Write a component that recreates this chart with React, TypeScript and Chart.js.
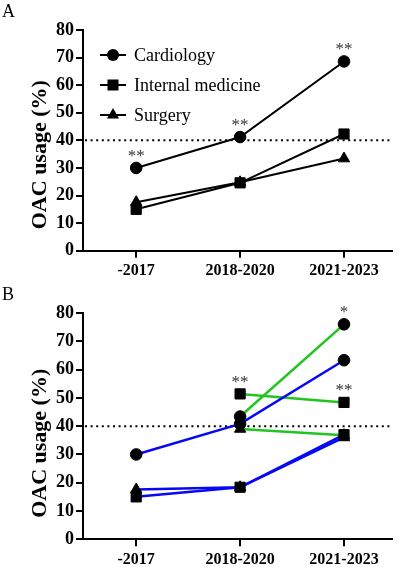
import React, { useEffect, useRef } from 'react';
import { Chart, registerables } from 'chart.js';

Chart.register(...registerables);

// Period categories on the x axis
const categories = ['-2017', '2018-2020', '2021-2023'];

// Panel A: OAC usage (%) by department
const cardiologyA = [30, 41.2, 68.6];
const internalA = [15, 24.6, 42.3];
const surgeryA = [17.6, 24.8, 33.4];
const cardiologyStarsA = ['**', '**', '**'];

// Panel B: blue and green series per department
const cardiologyBlue = [30, 40.8, 63.3];
const internalBlue = [15, 18.4, 37];
const surgeryBlue = [17.6, 18.4, 36];
const cardiologyGreen = [null, 43.4, 76];
const internalGreen = [null, 51.4, 48.4];
const surgeryGreen = [null, 39, 36.8];
const cardiologyGreenStars = ['', '', '*'];
const internalGreenStars = ['', '**', '**'];

const threshold = 40;
const yMin = 0;
const yMax = 80;
const yStep = 10;

const SERIF = "'Liberation Serif', 'Times New Roman', serif";
const BLUE = '#0808f4';
const GREEN = '#21c421';

type Val = number | null;

const toPoints = (vals: Val[]) => vals.map((v, i) => ({ x: i, y: v }));

function series(label: string, vals: Val[], style: string, color: string, width: number, stars?: string[]) {
  const radius = style === 'rect' ? 7.2 : style === 'triangle' ? 6.5 : 5.8;
  return {
    label,
    data: toPoints(vals),
    borderColor: color,
    borderWidth: width,
    pointStyle: style,
    pointRadius: radius,
    pointBackgroundColor: '#000',
    pointBorderColor: '#000',
    pointBorderWidth: 1,
    tension: 0,
    spanGaps: false,
    stars,
  } as any;
}

function drawMarker(ctx: CanvasRenderingContext2D, style: string, x: number, y: number) {
  ctx.save();
  ctx.fillStyle = '#000';
  ctx.beginPath();
  if (style === 'rect') {
    ctx.rect(x - 5.5, y - 5.5, 11, 11);
  } else if (style === 'triangle') {
    const r = 7;
    ctx.moveTo(x, y - r);
    ctx.lineTo(x + r * Math.sin((2 * Math.PI) / 3), y + r * 0.5);
    ctx.lineTo(x - r * Math.sin((2 * Math.PI) / 3), y + r * 0.5);
    ctx.closePath();
  } else {
    ctx.arc(x, y, 6, 0, Math.PI * 2);
  }
  ctx.fill();
  ctx.restore();
}

// Dotted reference line, stars, panel letter, axis title and legend
const decorPlugin = {
  id: 'decor',
  beforeDatasetsDraw(chart: any) {
    const { ctx, chartArea, scales } = chart;
    const y = scales.y.getPixelForValue(threshold);
    ctx.save();
    ctx.strokeStyle = '#000';
    ctx.lineWidth = 2;
    ctx.setLineDash([2, 3.6]);
    ctx.beginPath();
    ctx.moveTo(chartArea.left + 2, y);
    ctx.lineTo(chartArea.right, y);
    ctx.stroke();
    ctx.restore();
  },
  afterDatasetsDraw(chart: any) {
    const { ctx, scales } = chart;
    ctx.save();
    ctx.fillStyle = '#333';
    ctx.font = `17px ${SERIF}`;
    ctx.textAlign = 'center';
    ctx.textBaseline = 'alphabetic';
    chart.data.datasets.forEach((ds: any) => {
      if (!ds.stars) return;
      ds.data.forEach((p: any, i: number) => {
        const s = ds.stars[i];
        if (!s || p.y == null) return;
        ctx.fillText(s, scales.x.getPixelForValue(p.x), scales.y.getPixelForValue(p.y) - 7);
      });
    });
    ctx.restore();
  },
  afterDraw(chart: any, _args: any, opts: any) {
    const { ctx, chartArea } = chart;
    ctx.save();
    // panel letter
    ctx.fillStyle = '#000';
    ctx.font = `18px ${SERIF}`;
    ctx.textAlign = 'left';
    ctx.textBaseline = 'alphabetic';
    ctx.fillText(opts.letter, 2, 17);
    // y axis title
    ctx.save();
    ctx.translate(46, chartArea.bottom - 96);
    ctx.rotate(-Math.PI / 2);
    ctx.font = `bold 22px ${SERIF}`;
    ctx.textAlign = 'center';
    ctx.fillText('OAC usage (%)', 0, 0);
    ctx.restore();
    // legend
    if (opts.legend) {
      chart.data.datasets.forEach((ds: any, i: number) => {
        const y = 55 + i * 30;
        ctx.strokeStyle = '#000';
        ctx.lineWidth = 2;
        ctx.setLineDash([]);
        ctx.beginPath();
        ctx.moveTo(100, y);
        ctx.lineTo(126, y);
        ctx.stroke();
        drawMarker(ctx, ds.pointStyle, 113, y);
        ctx.fillStyle = '#000';
        ctx.font = `18px ${SERIF}`;
        ctx.textAlign = 'left';
        ctx.textBaseline = 'middle';
        ctx.fillText(ds.label, 134, y + 1);
      });
    }
    ctx.restore();
  },
};

function makeConfig(datasets: any[], letter: string, legend: boolean, xAxisHeight: number): any {
  const axisGrid = {
    drawOnChartArea: false,
    drawTicks: true,
    tickLength: 7,
    color: '#000',
    lineWidth: 2,
  };
  return {
    type: 'line',
    data: { datasets },
    plugins: [decorPlugin],
    options: {
      animation: false,
      responsive: false,
      events: [],
      layout: { padding: { top: 30, right: 7, left: 0, bottom: 0 } },
      plugins: {
        legend: { display: false },
        tooltip: { enabled: false },
        decor: { letter, legend },
      },
      scales: {
        x: {
          type: 'linear',
          min: -0.512,
          max: 2.46,
          border: { display: true, color: '#000', width: 2 },
          grid: axisGrid,
          afterBuildTicks: (s: any) => {
            s.ticks = categories.map((_, i) => ({ value: i }));
          },
          afterFit: (s: any) => {
            s.height = xAxisHeight;
          },
          ticks: {
            autoSkip: false,
            maxRotation: 0,
            padding: 4,
            color: '#000',
            font: { family: SERIF, size: 16, weight: 'bold' },
            callback: (v: any) => categories[v] ?? '',
          },
        },
        y: {
          min: yMin,
          max: yMax,
          border: { display: true, color: '#000', width: 2 },
          grid: axisGrid,
          afterFit: (s: any) => {
            s.width = 83;
          },
          ticks: {
            stepSize: yStep,
            padding: 2,
            color: '#000',
            font: { family: SERIF, size: 18, weight: 'bold' },
          },
        },
      },
    },
  };
}

function Panel({ letter, datasets, legend, height, xAxisHeight, top }: any) {
  const ref = useRef<HTMLCanvasElement | null>(null);
  useEffect(() => {
    if (!ref.current) return;
    const chart = new Chart(ref.current, makeConfig(datasets, letter, legend, xAxisHeight));
    return () => chart.destroy();
  }, []);
  return (
    <canvas
      ref={ref}
      width={400}
      height={height}
      style={{ position: 'absolute', left: 0, top, width: 400, height }}
    />
  );
}

export default function App() {
  const datasetsA = [
    series('Cardiology', cardiologyA, 'circle', '#000', 2, cardiologyStarsA),
    series('Internal medicine', internalA, 'rect', '#000', 2),
    series('Surgery', surgeryA, 'triangle', '#000', 2),
  ];
  const datasetsB = [
    series('Cardiology', cardiologyBlue, 'circle', BLUE, 2.5),
    series('Internal medicine', internalBlue, 'rect', BLUE, 2.5),
    series('Surgery', surgeryBlue, 'triangle', BLUE, 2.5),
    series('Cardiology', cardiologyGreen, 'circle', GREEN, 2.5, cardiologyGreenStars),
    series('Internal medicine', internalGreen, 'rect', GREEN, 2.5, internalGreenStars),
    series('Surgery', surgeryGreen, 'triangle', GREEN, 2.5),
  ];
  return (
    <div style={{ position: 'fixed', left: 0, top: 0, width: 400, height: 567, background: '#fff' }}>
      <Panel letter="A" datasets={datasetsA} legend={true} height={283} xAxisHeight={32.3} top={0} />
      <Panel letter="B" datasets={datasetsB} legend={false} height={284} xAxisHeight={27.7} top={283} />
    </div>
  );
}
